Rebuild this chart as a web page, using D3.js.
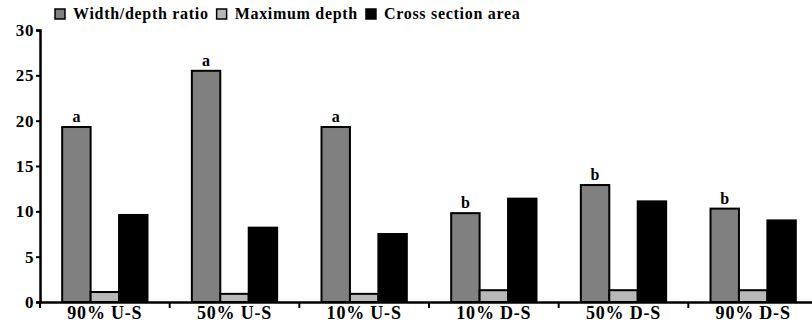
<!DOCTYPE html>
<html>
<head>
<meta charset="utf-8">
<script src="https://cdn.jsdelivr.net/npm/d3@7"></script>
<style>
  body { margin: 0; background: #fff; }
  svg text { font-family: "Liberation Serif", "Times New Roman", "DejaVu Serif", serif !important; font-weight: bold; }
</style>
</head>
<body>
<div id="chart"></div>
<script>
// data
var sites = ["90% U-S", "50% U-S", "10% U-S", "10% D-S", "50% D-S", "90% D-S"];
var series = ["Width/depth ratio", "Maximum depth", "Cross section area"];
var ratio = [19.3, 25.5, 19.3, 9.8, 12.9, 10.3];
var maxDepth = [1.1, 0.9, 0.9, 1.3, 1.3, 1.3];
var crossArea = [9.6, 8.2, 7.5, 11.4, 11.1, 9.0];
var letters = ["a", "a", "a", "b", "b", "b"];
var yTicks = [0, 5, 10, 15, 20, 25, 30];
var colors = ["#808080", "#b8b8b8", "#000000"];

var width = 812, height = 328;
var margin = {left: 40, right: -6, top: 30, bottom: 26};

var svg = d3.select("#chart").append("svg")
    .attr("width", width)
    .attr("height", height);

var x = d3.scaleBand()
    .domain(sites)
    .range([margin.left, width - margin.right])
    .paddingInner(0)
    .paddingOuter(0);

var xs = d3.scaleBand()
    .domain(series)
    .range([0, x.bandwidth()])
    .paddingOuter(0.78)
    .paddingInner(0);

var y = d3.scaleLinear()
    .domain([0, 30])
    .range([height - margin.bottom, margin.top]);

var rows = sites.map(function(s, i) {
  return {site: s, vals: [ratio[i], maxDepth[i], crossArea[i]], letter: letters[i]};
});

var groups = svg.selectAll("g.site")
    .data(rows)
    .enter().append("g")
    .attr("class", "site")
    .attr("transform", function(d) { return "translate(" + x(d.site) + ",0)"; });

groups.selectAll("rect")
    .data(function(d) { return d.vals.map(function(v, j) { return {k: series[j], v: v, j: j}; }); })
    .enter().append("rect")
    .attr("x", function(d) { return xs(d.k); })
    .attr("y", function(d) { return y(d.v); })
    .attr("width", xs.bandwidth())
    .attr("height", function(d) { return y(0) - y(d.v); })
    .attr("fill", function(d) { return colors[d.j]; })
    .attr("stroke", "#000")
    .attr("stroke-width", 2);

groups.append("text")
    .attr("x", function(d) { return xs(series[0]) + xs.bandwidth() / 2; })
    .attr("y", function(d) { return y(d.vals[0]) - 5; })
    .attr("text-anchor", "middle")
    .attr("font-size", 16)
    .text(function(d) { return d.letter; });

// y axis
var yAxis = svg.append("g")
    .attr("transform", "translate(" + margin.left + ",0)")
    .call(d3.axisLeft(y).tickValues(yTicks).tickSize(4).tickPadding(2));
yAxis.select(".domain").attr("stroke-width", 2.5);
yAxis.selectAll(".tick line").attr("stroke-width", 2);
yAxis.selectAll(".tick text")
    .attr("font-size", 17)
    .attr("letter-spacing", 0.6)
    .attr("fill", "#000");

// x axis
var xAxis = svg.append("g")
    .attr("transform", "translate(0," + y(0) + ")")
    .call(d3.axisBottom(x).tickSize(0).tickPadding(6));
xAxis.select(".domain").attr("stroke-width", 2.5);
xAxis.selectAll(".tick text")
    .attr("font-size", 18)
    .attr("letter-spacing", 0.8)
    .attr("dy", "0.62em")
    .attr("fill", "#000");
xAxis.selectAll(".sep")
    .data(sites)
    .enter().append("line")
    .attr("class", "sep")
    .attr("x1", function(d) { return x(d); })
    .attr("x2", function(d) { return x(d); })
    .attr("y1", 0)
    .attr("y2", 6)
    .attr("stroke", "#000")
    .attr("stroke-width", 2);

// legend
var legend = svg.append("g").attr("transform", "translate(55,14)");
var lx = 0;
series.forEach(function(s, i) {
  var g = legend.append("g").attr("transform", "translate(" + lx + ",0)");
  g.append("rect")
      .attr("x", 0).attr("y", -5)
      .attr("width", 10).attr("height", 10)
      .attr("fill", colors[i])
      .attr("stroke", "#000")
      .attr("stroke-width", 1.5);
  var t = g.append("text")
      .attr("x", 18).attr("y", 5)
      .attr("font-size", 16)
      .attr("letter-spacing", 0.7)
      .text(s);
  lx += 18 + t.node().getComputedTextLength() + 8;
});
</script>
</body>
</html>
